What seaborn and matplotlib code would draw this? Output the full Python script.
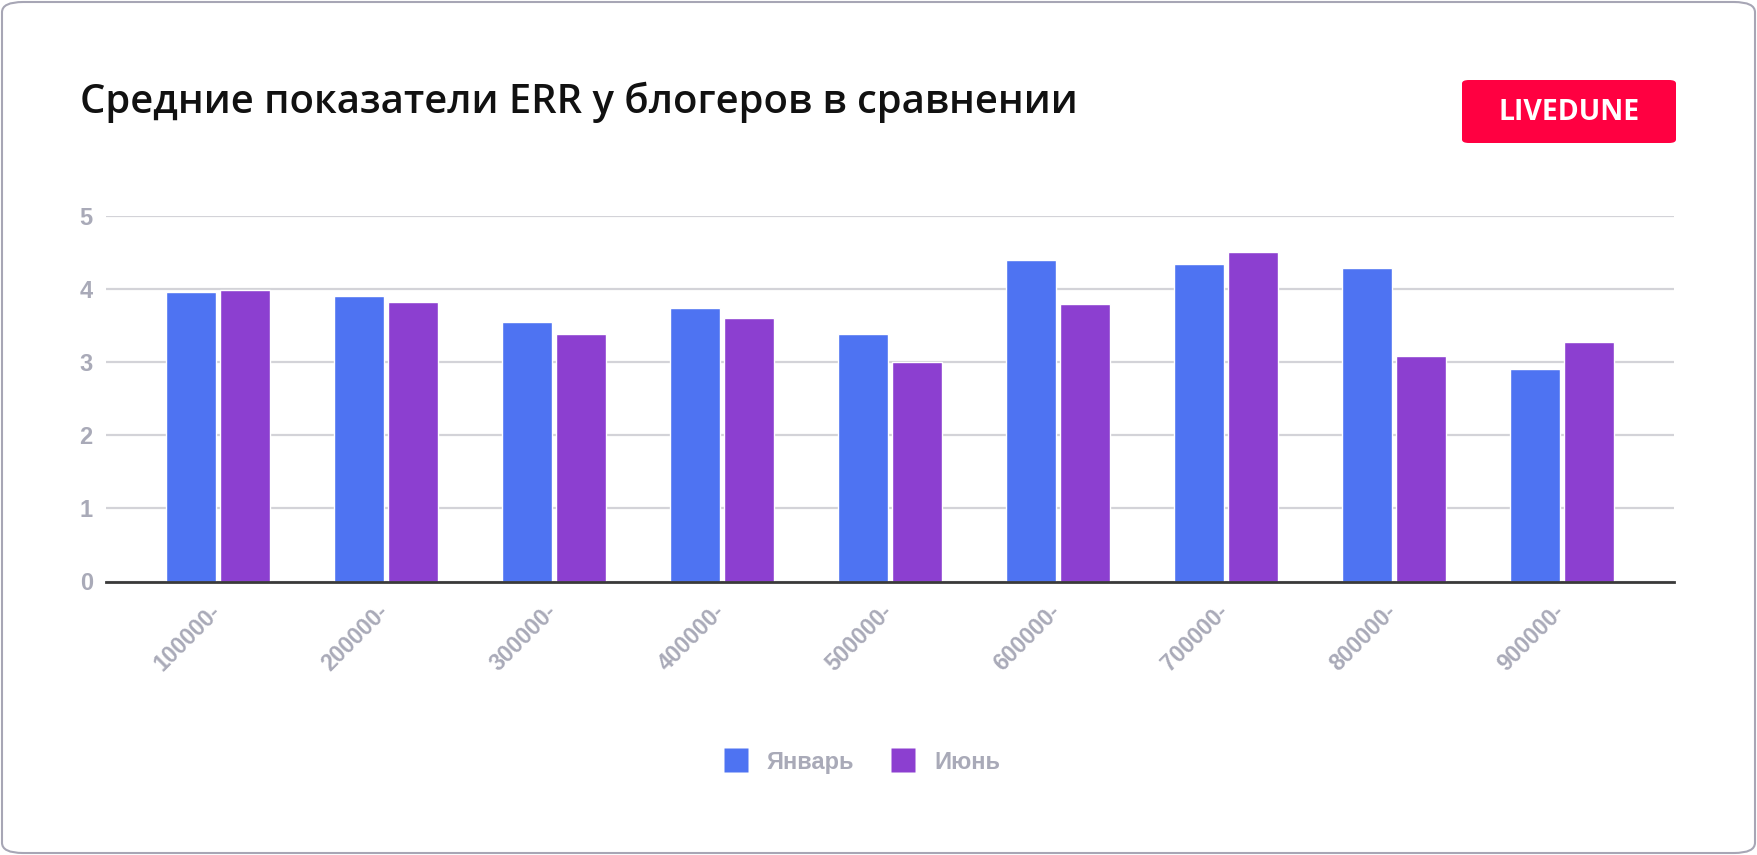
import matplotlib
matplotlib.use("Agg")
import matplotlib.pyplot as plt
import matplotlib.transforms as mtransforms
import seaborn as sns
import pandas as pd
from matplotlib.patches import FancyBboxPatch
from matplotlib.lines import Line2D

categories = ["100000-", "200000-", "300000-", "400000-", "500000-",
              "600000-", "700000-", "800000-", "900000-"]
jan_values = [3.96, 3.91, 3.55, 3.74, 3.38, 4.40, 4.34, 4.29, 2.91]
jun_values = [3.99, 3.82, 3.38, 3.60, 3.00, 3.79, 4.51, 3.08, 3.27]
series_names = ["Январь", "Июнь"]
y_ticks = [0, 1, 2, 3, 4, 5]
title_text = "Средние показатели ERR у блогеров в сравнении"
logo_text = "LIVEDUNE"

colors = ["#4E73F2", "#8C3FD0"]
gray = "#A9AAB8"

df = pd.DataFrame({
    "cat": categories * 2,
    "val": jan_values + jun_values,
    "series": [series_names[0]] * len(categories) + [series_names[1]] * len(categories),
})

sns.set_theme(style="white")
plt.rcParams['font.family'] = ['Liberation Sans', 'DejaVu Sans']

W, H = 1757, 855
fig = plt.figure(figsize=(W / 100, H / 100), dpi=100)

# card border
card = FancyBboxPatch((2 / W, 2 / H), (W - 4) / W, (H - 4) / H,
                      boxstyle="round,pad=0,rounding_size=0.012",
                      transform=fig.transFigure, facecolor="white",
                      edgecolor="#A7A6B5", linewidth=1.5, zorder=-5)
fig.patches.append(card)

ax = fig.add_axes([106 / W, 1 - 581.5 / H, (1674 - 106) / W, (581.5 - 216) / H])
ax.set_facecolor("none")

sns.barplot(data=df, x="cat", y="val", hue="series", palette=colors,
            width=0.64, gap=0.08, ax=ax, saturation=1, legend=False,
            errorbar=None, zorder=3)

d = 0.167
ax.set_xlim(-0.5 - d, len(categories) - 0.5 + d)
ax.set_ylim(0, 5)
ax.set_yticks(y_ticks)
ax.yaxis.grid(True, color="#D3D3D8", linewidth=1.6, zorder=0)
ax.set_axisbelow(True)
for s in ["top", "right", "left"]:
    ax.spines[s].set_visible(False)
ax.spines["bottom"].set_color("#3A3A3A")
ax.spines["bottom"].set_linewidth(2)
ax.spines["bottom"].set_zorder(5)
ax.set_xlabel("")
ax.set_ylabel("")
ax.tick_params(axis="y", length=0, pad=9.5, labelsize=17, labelcolor=gray)
ax.tick_params(axis="x", length=0, pad=13, labelsize=16.5, labelcolor=gray)
for lab in ax.get_yticklabels():
    lab.set_fontweight("bold")
offset = mtransforms.ScaledTranslation(-9 / 100, 0, fig.dpi_scale_trans)
for lab in ax.get_xticklabels():
    lab.set_rotation(45)
    lab.set_ha("right")
    lab.set_rotation_mode("anchor")
    lab.set_fontweight("bold")
    lab.set_transform(lab.get_transform() + offset)

# title
fig.text(80 / W, 1 - 102 / H, title_text, fontsize=28.8, color="#111111",
         family=["Open Sans", "DejaVu Sans"], fontweight="semibold",
         va="center", ha="left")

# logo
logo = FancyBboxPatch((1462 / W, 1 - 143 / H), (1676 - 1462) / W, (143 - 80) / H,
                      boxstyle="round,pad=0,rounding_size=0.004",
                      transform=fig.transFigure, facecolor="#FF0041",
                      edgecolor="none", zorder=2)
fig.patches.append(logo)
fig.text((1462 + 1676) / 2 / W, 1 - 112 / H, logo_text, fontsize=20.5,
         color="white", fontweight="bold", ha="center", va="center",
         family=["Open Sans", "DejaVu Sans"], zorder=3)

# legend
handles = [Line2D([], [], linestyle="none", marker="s", markersize=17.5,
                  markerfacecolor=c, markeredgecolor="none") for c in colors]
leg = fig.legend(handles, series_names, loc="center", bbox_to_anchor=(862 / W, 1 - 762 / H),
                 ncol=2, frameon=False, fontsize=17, handlelength=1.0,
                 handletextpad=0.8, columnspacing=1.6, labelcolor=gray)
for t in leg.get_texts():
    t.set_fontweight("bold")

fig.savefig("out.png", dpi=100)
